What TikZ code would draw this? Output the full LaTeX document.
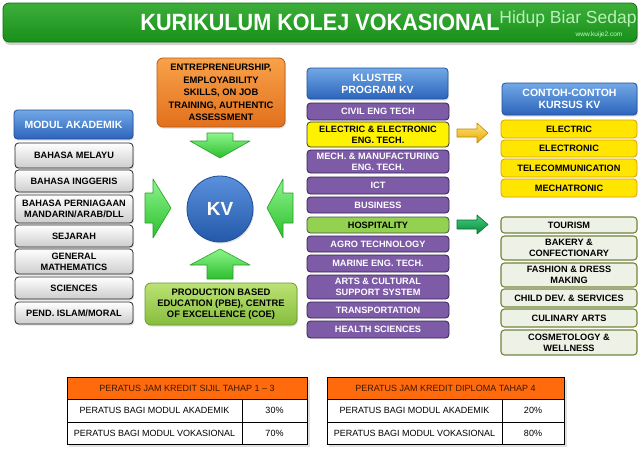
\documentclass[tikz,border=0pt]{standalone}
\usepackage{fontspec}
\setmainfont{Liberation Sans}
\usetikzlibrary{shadows}
\definecolor{tgTop}{HTML}{3DAE3A}
\definecolor{tgBot}{HTML}{17901A}
\definecolor{tgLine}{HTML}{0E700F}
\definecolor{hdTop}{HTML}{72A8E6}
\definecolor{hdBot}{HTML}{2C64BC}
\definecolor{hdLine}{HTML}{214F96}
\definecolor{gyBot}{HTML}{CDCDCD}
\definecolor{purp}{HTML}{7D5BA6}
\definecolor{purpLine}{HTML}{35224F}
\definecolor{eeYel}{HTML}{FFF200}
\definecolor{hosp}{HTML}{93D150}
\definecolor{cyFill}{HTML}{FFE500}
\definecolor{cyLine}{HTML}{D6A200}
\definecolor{clFill}{HTML}{EEF1E5}
\definecolor{clLine}{HTML}{71843A}
\definecolor{orTop}{HTML}{F8A24A}
\definecolor{orBot}{HTML}{E2701C}
\definecolor{orLine}{HTML}{B35A14}
\definecolor{grTop}{HTML}{BCE274}
\definecolor{grBot}{HTML}{86BD3E}
\definecolor{grLine}{HTML}{6A9A2E}
\definecolor{kvTop}{HTML}{5A90DC}
\definecolor{kvBot}{HTML}{2459AA}
\definecolor{kvLine}{HTML}{1D4F95}
\definecolor{gaTop}{HTML}{8CF58C}
\definecolor{gaBot}{HTML}{2DBE2D}
\definecolor{gaLine}{HTML}{25A025}
\definecolor{yaTop}{HTML}{FFE27A}
\definecolor{yaBot}{HTML}{E8A800}
\definecolor{yaLine}{HTML}{C08A00}
\definecolor{dgTop}{HTML}{44CC80}
\definecolor{dgBot}{HTML}{0A8A3C}
\definecolor{dgLine}{HTML}{067030}
\definecolor{tbOr}{HTML}{FF6A0D}
\definecolor{tbText}{HTML}{3A1A00}
\newcommand\bx[7]{\node[#6, minimum width={(#4)-(#2)}, minimum height={(#5)-(#3)}] (#1) at ({((#2)+(#4))/2},{((#3)+(#5))/2}) {#7};}
\tikzset{
  shd/.style={drop shadow={opacity=0.25, shadow xshift=1pt, shadow yshift=-1.5pt}},
  box/.style={rounded corners=3.5pt, draw, inner sep=0pt, align=center, line width=0.8pt,
    font=\bfseries\fontsize{9.2}{10.8}\selectfont},
  hdr/.style={box, shd, top color=hdTop, bottom color=hdBot, draw=hdLine, text=white,
    font=\bfseries\fontsize{10.5}{12}\selectfont},
  grey/.style={box, shd, top color=white, bottom color=gyBot, draw=black!85},
  purpbox/.style={box, fill=purp, draw=purpLine, text=white},
  eebox/.style={box, fill=eeYel, draw=black!80},
  hospbox/.style={box, fill=hosp, draw=black!70},
  cybox/.style={box, fill=cyFill, draw=cyLine},
  clbox/.style={box, fill=clFill, draw=clLine, line width=1.1pt},
  orbox/.style={box, shd, rounded corners=6pt, top color=orTop, bottom color=orBot, draw=orLine,
    font=\bfseries\fontsize{9.4}{12.4}\selectfont},
  grbox/.style={box, shd, rounded corners=6pt, top color=grTop, bottom color=grBot, draw=grLine,
    font=\bfseries\fontsize{9.4}{11}\selectfont},
  garrow/.style={draw=gaLine, line width=0.6pt, top color=gaTop, bottom color=gaBot, line join=round},
  yarrow/.style={draw=yaLine, line width=0.6pt, top color=yaTop, bottom color=yaBot, line join=round},
  darrow/.style={draw=dgLine, line width=0.6pt, top color=dgTop, bottom color=dgBot, line join=round},
  tcell/.style={draw=black, line width=0.9pt, fill=white, inner sep=0pt, font=\fontsize{9}{10}\selectfont},
  thead/.style={tcell, fill=tbOr, text=tbText}
}
\begin{document}
\begin{tikzpicture}[x=1pt,y=-1pt]
\useasboundingbox[fill=white] (0,0) rectangle (640,455);
% title
\node[rounded corners=6pt, draw=tgLine, line width=0.8pt, top color=tgTop, bottom color=tgBot,
  drop shadow={opacity=0.35, shadow xshift=1pt, shadow yshift=-3pt},
  minimum width=634, minimum height=39, inner sep=0pt, text=white,
  font=\bfseries\fontsize{23.5}{24}\selectfont] (title) at (320,22.5)
  {\scalebox{0.92}[1]{KURIKULUM KOLEJ VOKASIONAL}};
\node[font=\fontsize{17.5}{18}\selectfont, text=white!82!green, opacity=0.85, inner sep=0pt] (wm) at (568,19) {Hidup Biar Sedap};
\node[font=\fontsize{6.5}{7}\selectfont, text=white!75!green, inner sep=0pt] (url) at (599,35) {www.kuije2.com};
% left column
\bx{ma}{14}{110}{133}{139}{hdr}{MODUL AKADEMIK}
\bx{bm}{15}{143}{133}{168}{grey}{BAHASA MELAYU}
\bx{bi}{15}{170}{133}{192}{grey}{BAHASA INGGERIS}
\bx{bp}{15}{195}{133}{223}{grey}{BAHASA PERNIAGAAN\\MANDARIN/ARAB/DLL}
\bx{sj}{15}{225}{133}{247}{grey}{SEJARAH}
\bx{gm}{15}{249}{133}{274}{grey}{GENERAL\\MATHEMATICS}
\bx{sc}{15}{277}{133}{299}{grey}{SCIENCES}
\bx{pi}{15}{302}{133}{324}{grey}{PEND. ISLAM/MORAL}
% centre
\bx{ent}{157}{58}{285}{127}{orbox}{ENTREPRENEURSHIP,\\EMPLOYABILITY\\SKILLS, ON JOB\\TRAINING, AUTHENTIC\\ASSESSMENT}
\node[circle, draw=kvLine, line width=0.8pt, top color=kvTop, bottom color=kvBot, shd, text=white,
  minimum size=66, inner sep=0pt, font=\bfseries\fontsize{19}{19}\selectfont] (kv) at (220,209) {KV};
\bx{pbe}{145}{283}{297}{325}{grbox}{PRODUCTION BASED\\EDUCATION (PBE), CENTRE\\OF EXCELLENCE (COE)}
% block arrows towards KV
\path[garrow] (207,133) -- (233,133) -- (233,141) -- (250,141) -- (220,158) -- (190,141) -- (207,141) -- cycle;
\path[garrow] (207,279) -- (233,279) -- (233,265) -- (250,265) -- (220,249) -- (190,265) -- (207,265) -- cycle;
\path[garrow] (145,193) -- (153,193) -- (153,179) -- (171,208) -- (153,238) -- (153,223) -- (145,223) -- cycle;
\path[garrow] (293,193) -- (283,193) -- (283,179) -- (267,208) -- (283,238) -- (283,223) -- (293,223) -- cycle;
% kluster
\bx{kl}{307}{68}{448}{99}{hdr}{KLUSTER\\PROGRAM KV}
\bx{civ}{307}{103}{449}{120}{purpbox}{CIVIL ENG TECH}
\bx{ee}{307}{122}{449}{147}{eebox}{ELECTRIC \& ELECTRONIC\\ENG. TECH.}
\bx{mech}{307}{150}{449}{173}{purpbox}{MECH. \& MANUFACTURING\\ENG. TECH.}
\bx{ict}{307}{177}{449}{194}{purpbox}{ICT}
\bx{bus}{307}{197}{449}{213}{purpbox}{BUSINESS}
\bx{hos}{307}{217}{449}{233}{hospbox}{HOSPITALITY}
\bx{agro}{307}{236}{449}{252}{purpbox}{AGRO TECHNOLOGY}
\bx{mar}{307}{255}{449}{272}{purpbox}{MARINE ENG. TECH.}
\bx{arts}{307}{275}{449}{299}{purpbox}{ARTS \& CULTURAL\\SUPPORT SYSTEM}
\bx{trn}{307}{302}{449}{318}{purpbox}{TRANSPORTATION}
\bx{hlth}{307}{321}{449}{338}{purpbox}{HEALTH SCIENCES}
% small arrows
\path[yarrow] (457,129) -- (477,129) -- (477,123) -- (488,133) -- (477,143) -- (477,137) -- (457,137) -- cycle;
\path[darrow] (457,220) -- (477,220) -- (477,215) -- (488,224.5) -- (477,234) -- (477,229) -- (457,229) -- cycle;
% courses
\bx{ck}{502}{83}{637}{115}{hdr}{CONTOH-CONTOH\\KURSUS KV}
\bx{c1}{501}{120}{637}{138}{cybox}{ELECTRIC}
\bx{c2}{501}{140}{637}{157}{cybox}{ELECTRONIC}
\bx{c3}{501}{159}{637}{177}{cybox}{TELECOMMUNICATION}
\bx{c4}{501}{179}{637}{197}{cybox}{MECHATRONIC}
\bx{h1}{501}{217}{637}{233}{clbox}{TOURISM}
\bx{h2}{501}{236}{637}{260}{clbox}{BAKERY \&\\CONFECTIONARY}
\bx{h3}{501}{263}{637}{287}{clbox}{FASHION \& DRESS\\MAKING}
\bx{h4}{501}{289}{637}{307}{clbox}{CHILD DEV. \& SERVICES}
\bx{h5}{501}{309}{637}{327}{clbox}{CULINARY ARTS}
\bx{h6}{501}{330}{637}{355}{clbox}{COSMETOLOGY \&\\WELLNESS}
% tables
\fill[black, opacity=0.12] (69,380) rectangle (310,447);
\fill[black, opacity=0.12] (329,380) rectangle (567,447);
\bx{ta}{67}{377}{307}{399}{thead}{PERATUS JAM KREDIT SIJIL TAHAP 1 – 3}
\bx{ta1}{67}{399}{242}{422}{tcell}{PERATUS BAGI MODUL AKADEMIK}
\bx{ta2}{242}{399}{307}{422}{tcell}{30\%}
\bx{ta3}{67}{422}{242}{444}{tcell}{PERATUS BAGI MODUL VOKASIONAL}
\bx{ta4}{242}{422}{307}{444}{tcell}{70\%}
\bx{tb}{327}{377}{564}{399}{thead}{PERATUS JAM KREDIT DIPLOMA TAHAP 4}
\bx{tb1}{327}{399}{502}{422}{tcell}{PERATUS BAGI MODUL AKADEMIK}
\bx{tb2}{502}{399}{564}{422}{tcell}{20\%}
\bx{tb3}{327}{422}{502}{444}{tcell}{PERATUS BAGI MODUL VOKASIONAL}
\bx{tb4}{502}{422}{564}{444}{tcell}{80\%}
\end{tikzpicture}
\end{document}
